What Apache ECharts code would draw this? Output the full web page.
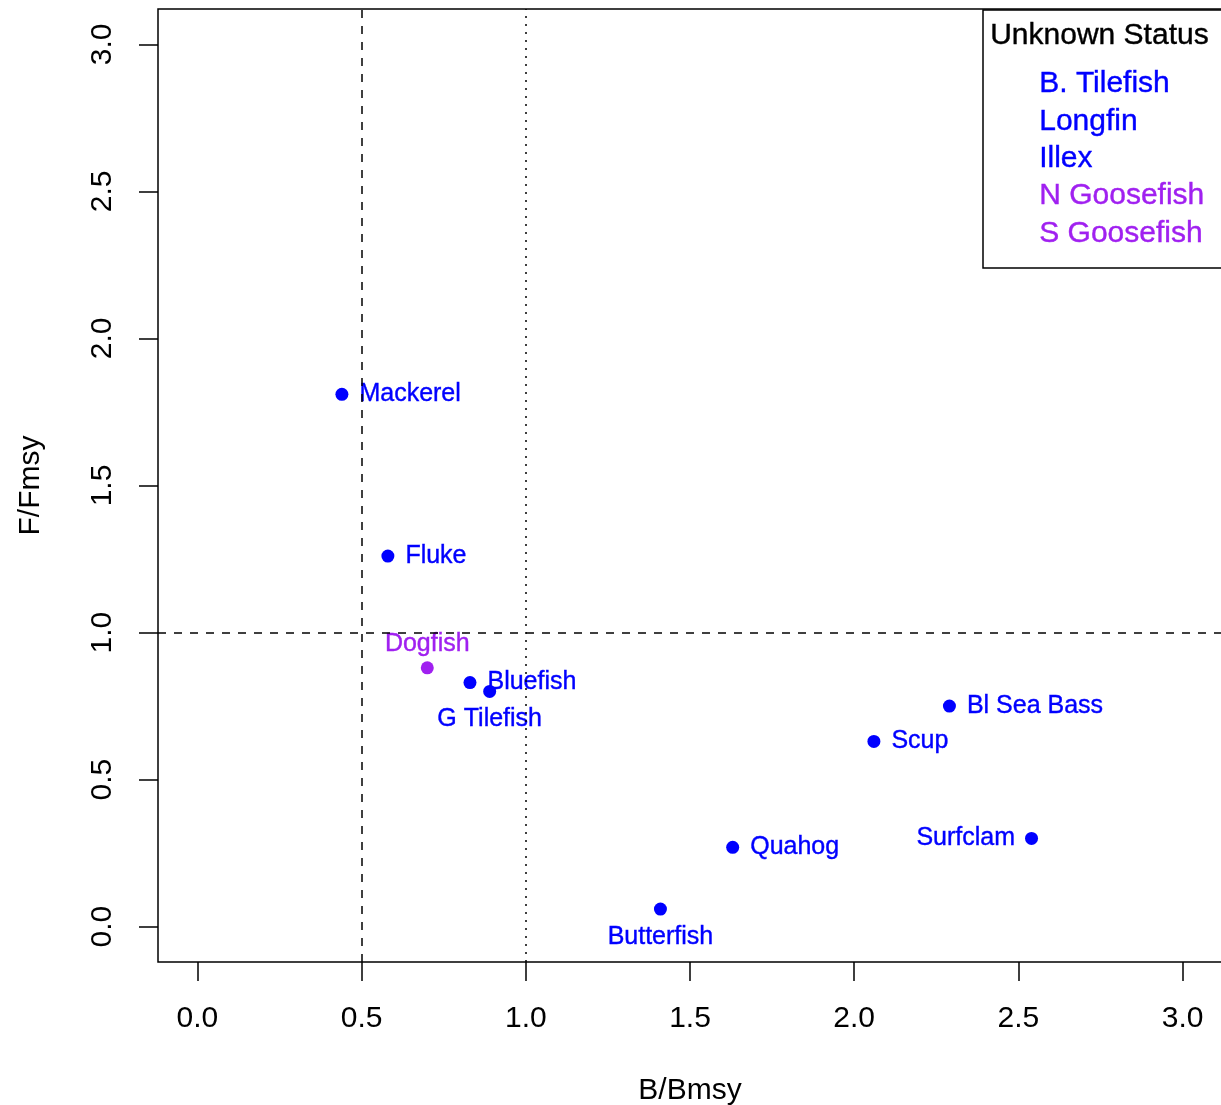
<!DOCTYPE html>
<html>
<head>
<meta charset="utf-8">
<title>Stock status</title>
<script src="https://cdn.jsdelivr.net/npm/echarts@6/dist/echarts.min.js"></script>
<style>
  html, body { margin: 0; padding: 0; background: #fff; }
  #chart { width: 1221px; height: 1105px; }
</style>
</head>
<body>
<div id="chart"></div>
<script>
// stocks with known status
const stockNames = ['Mackerel', 'Fluke', 'Dogfish', 'Bluefish', 'G Tilefish', 'Bl Sea Bass', 'Scup', 'Surfclam', 'Quahog', 'Butterfish'];
const bBmsy = [0.44, 0.58, 0.70, 0.83, 0.89, 2.29, 2.06, 2.54, 1.63, 1.41];
const fFmsy = [1.81, 1.26, 0.88, 0.83, 0.80, 0.75, 0.63, 0.30, 0.27, 0.06];
const purpleStocks = ['Dogfish'];

// legend: stocks with unknown status
const unknownStocks = ['B. Tilefish', 'Longfin', 'Illex', 'N Goosefish', 'S Goosefish'];
const unknownPurple = ['N Goosefish', 'S Goosefish'];

const tickValues = [0, 0.5, 1, 1.5, 2, 2.5, 3];
const refX = [0.5, 1.0];
const refY = [1.0];

const BLUE = '#0000ff';
const PURPLE = '#a020f0';
const FONT = '"Liberation Sans", Arial, sans-serif';

// where each point label goes
const labelPos = {
    'Dogfish': 'top',
    'G Tilefish': 'bottom',
    'Butterfish': 'bottom',
    'Surfclam': 'left'
};
const labelDist = { top: 5, bottom: 9, left: 10, right: 11 };

const chart = echarts.init(document.getElementById('chart'));

const points = stockNames.map((name, i) => {
    const col = purpleStocks.includes(name) ? PURPLE : BLUE;
    const pos = labelPos[name] || 'right';
    return {
        name: name,
        value: [bBmsy[i], fFmsy[i]],
        itemStyle: { color: col, opacity: 1 },
        label: {
            position: pos,
            color: col,
            textBorderColor: col,
            textBorderWidth: 0.4,
            distance: labelDist[pos]
        }
    };
});

const axisCommon = {
    type: 'value',
    min: -0.12,
    max: 3.12,
    splitLine: { show: false },
    axisLine: { show: false, onZero: false },
    axisTick: {
        show: true,
        customValues: tickValues,
        length: 19,
        lineStyle: { color: '#000', width: 1.5 }
    },
    nameLocation: 'middle',
    nameTextStyle: { fontSize: 30, color: '#000', fontFamily: FONT }
};

const legendTexts = unknownStocks.map((s, i) => {
    const col = unknownPurple.includes(s) ? PURPLE : BLUE;
    return {
        type: 'text',
        left: 1039,
        top: 69 + i * 37.3,
        z: 11,
        style: {
            text: s,
            fontSize: 30,
            fontFamily: FONT,
            fill: col,
            stroke: col,
            lineWidth: 0.4
        }
    };
});

const options = {
    animation: false,
    grid: {
        left: 158,
        top: 9,
        right: -1,
        bottom: 143,
        outerBoundsMode: 'none',
        containLabel: false,
        show: true,
        borderColor: '#000',
        borderWidth: 1.5
    },
    xAxis: Object.assign({}, axisCommon, {
        name: 'B/Bmsy',
        nameGap: 114,
        axisLabel: {
            customValues: tickValues,
            formatter: v => v.toFixed(1),
            fontSize: 30,
            color: '#000',
            fontFamily: FONT,
            margin: 42
        }
    }),
    yAxis: Object.assign({}, axisCommon, {
        name: 'F/Fmsy',
        nameGap: 112,
        axisLabel: {
            customValues: tickValues,
            formatter: v => v.toFixed(1),
            fontSize: 30,
            color: '#000',
            fontFamily: FONT,
            rotate: 90,
            margin: 40
        }
    }),
    series: [
        {
            type: 'scatter',
            symbol: 'circle',
            symbolSize: 13,
            data: points,
            label: {
                show: true,
                formatter: '{b}',
                fontSize: 25,
                fontFamily: FONT
            },
            emphasis: { disabled: true },
            markLine: {
                silent: true,
                symbol: 'none',
                label: { show: false },
                data: [
                    { xAxis: refX[0], lineStyle: { type: [8, 8], color: '#000', width: 1.5 } },
                    { xAxis: refX[1], lineStyle: { type: [2, 6], color: '#000', width: 1.5 } },
                    { yAxis: refY[0], lineStyle: { type: [8, 8], color: '#000', width: 1.5 } }
                ]
            }
        }
    ],
    graphic: [
        {
            type: 'rect',
            shape: { x: 983, y: 10, width: 260, height: 258 },
            style: { fill: '#fff', stroke: '#000', lineWidth: 1.5 },
            z: 10
        },
        {
            type: 'text',
            left: 990,
            top: 21,
            z: 11,
            style: { text: 'Unknown Status', fontSize: 30, fontFamily: FONT, fill: '#000', stroke: '#000', lineWidth: 0.4 }
        }
    ].concat(legendTexts)
};

chart.setOption(options);
</script>
</body>
</html>
